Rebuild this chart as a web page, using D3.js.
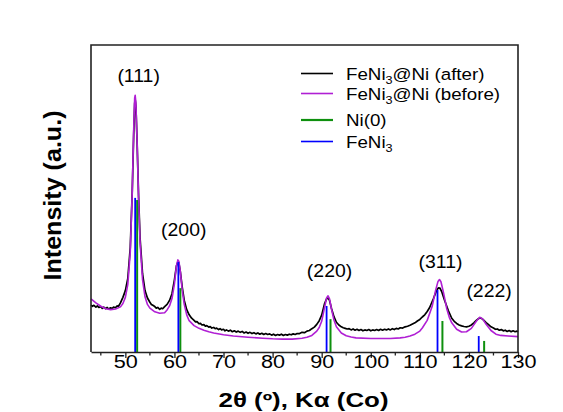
<!DOCTYPE html>
<html>
<head>
<meta charset="utf-8">
<script src="https://cdn.jsdelivr.net/npm/d3@7"></script>
<style>
  body { margin: 0; background: #fff; }
  svg { display: block; }
  text { font-family: "Liberation Sans", Arial, sans-serif; fill: #000; }
</style>
</head>
<body>
<svg width="563" height="412"></svg>
<script>
// ---> Data (2theta in degrees, intensity in arbitrary units)
const afterData = [
  [43.0,153],[43.3,149],[43.6,152],[44,146],[44.3,150],[44.6,145],[45,148],[45.3,142],[45.6,146],
  [46,141],[46.3,145],[46.6,140],[47,144],[47.3,141],[47.6,146],[48,144],[48.3,150],[48.6,149],
  [49,160],[49.5,178],[50,200],[50.5,240],[51.0,340],[51.4,520],
  [51.7,710],[51.9,810],[52.0,822],[52.15,800],[52.4,680],[52.7,505],[53.0,370],[53.5,255],
  [54,200],[54.5,176],[55,162],[55.3,155],[55.6,152],[56,148],[56.3,143],[56.6,145],[57,139],
  [57.3,143],[57.6,141],[58,148],[58.5,155],[59,168],[59.5,190],[60.0,235],[60.4,280],[60.7,293],
  [60.9,290],[61.2,262],[61.6,210],[62.0,168],[62.5,138],[63,121],[63.5,110],[64,103],[64.3,98],
  [64.6,99],[65,92],[65.3,93],[65.6,88],[66,89],[66.3,84],[66.6,86],[67,81],[67.3,83],[67.6,78],
  [68,80],[68.3,76],[68.6,78],[69,73],[69.3,76],[69.6,72],[70,74],[70.3,69],[70.6,72],[71,68],
  [71.4,71],[71.8,66],[72.2,69],[72.6,65],[73,68],[73.4,64],[73.8,67],[74.2,62],[74.6,65],
  [75,61],[75.4,64],[75.8,60],[76.2,63],[76.6,59],[77,62],[77.4,58],[77.8,61],[78.2,57],
  [78.6,60],[79,57],[79.4,59],[79.8,55],[80.2,58],[80.6,54],[81,57],[81.4,55],[81.8,58],
  [82.2,54],[82.6,57],[83,55],[83.4,58],[83.8,56],[84.2,59],[84.6,57],[85,60],[85.5,60],
  [86,64],[86.5,63],[87,68],[87.5,70],[88,76],[88.5,81],[89,90],[89.5,102],[90,120],[90.6,158],
  [91.0,173],[91.3,176],[91.6,168],[92.0,142],[92.5,115],[93,97],[93.5,88],[94,82],[94.4,79],
  [94.8,77],[95.2,75],[95.6,76],[96,72],[96.4,75],[96.8,71],[97.2,74],[97.6,70],[98,73],
  [98.4,69],[98.8,72],[99.2,70],[99.6,73],[100,69],[100.4,72],[100.8,70],[101.2,73],[101.6,70],
  [102,74],[102.4,71],[102.8,74],[103.2,72],[103.6,75],[104,72],[104.4,76],[104.8,73],[105.2,77],
  [105.6,75],[106,79],[106.5,78],[107,82],[107.5,84],[108,87],[108.5,91],[109,95],[109.5,101],
  [110,106],[110.5,114],[111,121],[111.5,132],[112,145],[112.8,175],[113.4,200],
  [113.8,209],[114.1,208],[114.5,195],[115,170],[115.8,135],[116.5,110],[117,100],[117.5,93],
  [118,88],[118.5,85],[119,83],[119.5,82],[120,84],[120.5,88],[121,95],[121.5,103],[122,109],
  [122.3,111],[122.7,108],[123,104],[123.5,96],[124,89],[124.5,82],[125,78],[125.4,74],
  [125.8,75],[126.2,71],[126.6,73],[127,69],[127.4,71],[127.8,67],[128.2,70],[128.6,66],
  [129,69],[129.4,66],[129.8,68],[130,66]
];

const beforeData = [
  [43.0,173],[44,160],[45,149],[46,141],[47,138],[48,140],[49,147],[49.5,158],[50,178],
  [50.5,220],[51.0,325],[51.4,520],[51.7,725],[51.9,828],[52.0,836],[52.15,812],[52.4,680],
  [52.7,495],[53.0,355],[53.5,236],[54,180],[54.5,155],[55,143],[56,131],[57,126],[58,128],
  [58.5,137],[59,150],[59.5,174],[60.0,222],[60.4,280],[60.7,300],[60.9,296],[61.2,262],
  [61.6,200],[62.0,155],[62.5,121],[63,102],[64,86],[65,77],[66,71],[67,66],[68,62],[70,56],
  [72,52],[75,48],[78,45],[80,43],[82,42],[84,42],[86,45],[87,48],[88,54],[89,68],[89.5,80],
  [90,100],[90.6,146],[91.0,176],[91.3,183],[91.6,173],[92.0,140],[92.5,104],[93,82],
  [94,62],[95,53],[96,49],[97,46],[100,44],[104,44],[106,46],[107,48],[108,52],[109,58],
  [110,68],[110.5,78],[111.5,103],[112.5,148],[113.2,200],[113.7,230],[114.0,236],
  [114.3,229],[114.8,195],[115.5,140],[116,113],[116.5,95],[117.5,74],[118.5,65],[119.5,66],
  [120.5,77],[121.5,100],[122.2,113],[122.8,108],[123.5,90],[124.5,70],[125.5,58],[126.5,54],
  [128,52],[130,50]
];

const niAngles = [52.4, 61.2, 91.8, 114.6, 123.1];
const niIntensity = [495, 208, 107, 101, 36];
const feni3Angles = [52.0, 60.8, 91.0, 113.6, 122.0];
const feni3Intensity = [502, 293, 150, 202, 52];

const peakLabels = ["(111)", "(200)", "(220)", "(311)", "(222)"];
const peakLabelAngles = [52.7, 61.9, 91.6, 114.2, 124.1];
const peakLabelIntensity = [880, 378, 244, 273, 180];

const xTicks = [50, 60, 70, 80, 90, 100, 110, 120, 130];
const xMinorTicks = [45, 55, 65, 75, 85, 95, 105, 115, 125];

// ---> Layout
const svg = d3.select("svg");
const plotLeft = 91, plotRight = 518, plotTop = 45, plotBottom = 352;
const SX = 1.17; // text in the figure is a bit wider than tall

const x = d3.scaleLinear().domain([43, 130]).range([plotLeft, plotRight]);
const y = d3.scaleLinear().domain([0, 1000]).range([plotBottom, plotTop]);

const colors = {after: "#000000", before: "#b01fd4", ni: "#0e900e", feni3: "#0000ff"};

// curves
const line = d3.line().x(d => x(d[0])).y(d => y(d[1]));

svg.append("path")
    .datum(afterData)
    .attr("d", line)
    .attr("fill", "none")
    .attr("stroke", colors.after)
    .attr("stroke-width", 1.7)
    .attr("stroke-linejoin", "round");

svg.append("path")
    .datum(beforeData)
    .attr("d", line)
    .attr("fill", "none")
    .attr("stroke", colors.before)
    .attr("stroke-width", 1.6)
    .attr("stroke-linejoin", "round");

// reference sticks
svg.append("g").selectAll("line")
    .data(niAngles)
    .join("line")
    .attr("x1", d => x(d)).attr("x2", d => x(d))
    .attr("y1", y(0))
    .attr("y2", (d, i) => y(niIntensity[i]))
    .attr("stroke", colors.ni)
    .attr("stroke-width", 2);

svg.append("g").selectAll("line")
    .data(feni3Angles)
    .join("line")
    .attr("x1", d => x(d)).attr("x2", d => x(d))
    .attr("y1", y(0))
    .attr("y2", (d, i) => y(feni3Intensity[i]))
    .attr("stroke", colors.feni3)
    .attr("stroke-width", 1.8);

// frame
svg.append("path")
    .attr("d", `M${plotLeft},${plotBottom}V${plotTop}H${plotRight}V${plotBottom}`)
    .attr("fill", "none")
    .attr("stroke", "#222")
    .attr("stroke-width", 1.6);

// bottom axis
const xAxis = svg.append("g")
    .attr("transform", `translate(0,${plotBottom})`)
    .call(d3.axisBottom(x).tickValues(xTicks).tickSize(6).tickSizeOuter(0));
xAxis.select(".domain").attr("stroke", "#222").attr("stroke-width", 1.6);
xAxis.selectAll(".tick line").attr("stroke", "#222").attr("stroke-width", 1.3);
xAxis.selectAll(".tick text")
    .attr("y", 16).attr("dy", 0)
    .attr("transform", `scale(${SX},1)`)
    .style("font-family", "Liberation Sans, Arial, sans-serif")
    .style("font-size", "18.5px")
    .attr("fill", "#000");

svg.append("g").selectAll("line")
    .data(xMinorTicks)
    .join("line")
    .attr("x1", d => x(d)).attr("x2", d => x(d))
    .attr("y1", plotBottom).attr("y2", plotBottom + 3.5)
    .attr("stroke", "#222")
    .attr("stroke-width", 1.3);

// peak labels
svg.append("g").selectAll("text")
    .data(peakLabels)
    .join("text")
    .attr("transform", (d, i) => `translate(${x(peakLabelAngles[i])},${y(peakLabelIntensity[i])}) scale(1.08,1)`)
    .attr("text-anchor", "middle")
    .style("font-size", "18px")
    .text(d => d);

// axis titles
svg.append("text")
    .attr("x", (plotLeft + plotRight) / 2 - 1)
    .attr("y", 407)
    .attr("text-anchor", "middle")
    .attr("textLength", 170)
    .attr("lengthAdjust", "spacingAndGlyphs")
    .style("font-size", "19.5px")
    .style("font-weight", "bold")
    .text("2θ (º), Kα (Co)");

svg.append("text")
    .attr("transform", `translate(61,${(plotTop + plotBottom) / 2 - 3}) rotate(-90)`)
    .attr("text-anchor", "middle")
    .attr("textLength", 170)
    .attr("lengthAdjust", "spacingAndGlyphs")
    .style("font-size", "23px")
    .style("font-weight", "bold")
    .text("Intensity (a.u.)");

// legend
const legendItems = [
  {name: "FeNi", sub: "3", rest: "@Ni (after)", color: colors.after, w: 1.6, y: 73.5},
  {name: "FeNi", sub: "3", rest: "@Ni (before)", color: colors.before, w: 1.6, y: 93.5},
  {name: "Ni(0)", sub: "", rest: "", color: colors.ni, w: 2.2, y: 120},
  {name: "FeNi", sub: "3", rest: "", color: colors.feni3, w: 1.6, y: 141.5}
];

const legend = svg.append("g");
const item = legend.selectAll("g")
    .data(legendItems)
    .join("g")
    .attr("transform", d => `translate(0,${d.y})`);

item.append("line")
    .attr("x1", 301).attr("x2", 333)
    .attr("stroke", d => d.color)
    .attr("stroke-width", d => d.w);

const label = item.append("text")
    .attr("transform", `translate(346,6) scale(1.15,1)`)
    .style("font-size", "16.3px");
label.append("tspan").text(d => d.name);
label.append("tspan")
    .attr("dy", 4)
    .style("font-size", "11px")
    .text(d => d.sub);
label.append("tspan")
    .attr("dy", d => d.sub ? -4 : 0)
    .text(d => d.rest);
</script>
</body>
</html>
